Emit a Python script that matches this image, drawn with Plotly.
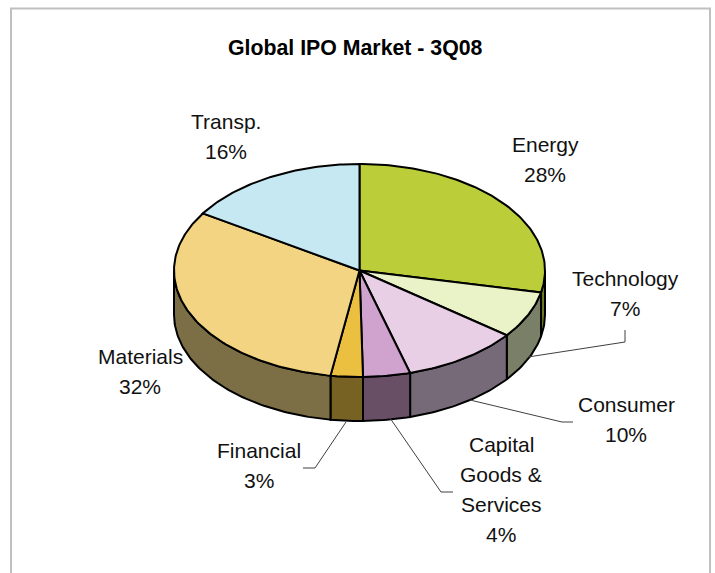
import math
import plotly.graph_objects as go

# ---- data ----
categories = ["Energy", "Technology", "Consumer", "Capital Goods & Services", "Financial", "Materials", "Transp."]
values = [28.3, 7.1, 10.2, 4.1, 2.8, 31.5, 16.0]
label_lines = [["Energy"], ["Technology"], ["Consumer"], ["Capital", "Goods &", "Services"], ["Financial"], ["Materials"], ["Transp."]]
title_text = "Global IPO Market - 3Q08"

# ---- style ----
top_colors = ["#BBCE3A", "#EAF3C7", "#E8CFE6", "#D0A2CE", "#EBBF3F", "#F3D482", "#C5E8F2"]
wall_colors = ["#6E7A1C", "#7A7F68", "#766A78", "#694F66", "#776123", "#7C6E45", "#62757A"]
FONT = "Liberation Sans, Arial, sans-serif"
W, H = 715, 573
CX, CY, RX, RY, DEPTH = 359.5, 270.5, 185.5, 106.5, 44.0
label_pos = [(545, 144), (625, 278), (626, 404), (501, 444), (259, 450), (140, 356), (226, 121)]
leader_paths = {
    "Technology": ([528, 625, 625], [357, 342, 330]),
    "Consumer": ([470, 562, 573], [400, 422, 422]),
    "Capital Goods & Services": ([390, 441, 453], [418, 492, 492]),
    "Financial": ([346, 315, 303], [422, 468, 468]),
}
LINE_H = 30


def pt(deg, dy=0.0):
    a = math.radians(deg)
    return CX + RX * math.sin(a), CY - RY * math.cos(a) + dy


def arc(a, b, dy=0.0):
    n = max(2, int(abs(b - a) / 1.0) + 1)
    return [pt(a + (b - a) * i / (n - 1), dy) for i in range(n)]


fig = go.Figure()
total = sum(values)
spans = []
acc = 0.0
for v in values:
    spans.append((acc / total * 360, (acc + v) / total * 360))
    acc += v


def add_poly(points, color, name, pct):
    xs = [p[0] for p in points] + [points[0][0]]
    ys = [p[1] for p in points] + [points[0][1]]
    fig.add_trace(go.Scatter(x=xs, y=ys, mode="lines", fill="toself", fillcolor=color,
                             line=dict(color="#000000", width=2), name=name,
                             text=f"{name}: {pct:.0f}%", hoverinfo="text", hoveron="fills",
                             showlegend=False))


# outer walls, only the part on the near side of the disc
for i, (a, b) in enumerate(spans):
    lo, hi = max(a, 90), min(b, 270)
    if hi > lo:
        add_poly(arc(lo, hi) + arc(hi, lo, DEPTH), wall_colors[i], categories[i], values[i])

# top faces
for i, (a, b) in enumerate(spans):
    add_poly([(CX, CY)] + arc(a, b), top_colors[i], categories[i], values[i])

# leader lines
for name, (lx, ly) in leader_paths.items():
    fig.add_trace(go.Scatter(x=lx, y=ly, mode="lines", line=dict(color="#404040", width=1),
                             hoverinfo="skip", showlegend=False))

annotations = [dict(x=355.5, y=48, text=f"<b>{title_text}</b>", showarrow=False, xanchor="center",
                    yanchor="middle", font=dict(family=FONT, size=21.3, color="#000000"))]
for i, lines in enumerate(label_lines):
    x, y = label_pos[i]
    for j, t in enumerate(lines + [f"{values[i]:.0f}%"]):
        annotations.append(dict(x=x, y=y + j * LINE_H, text=t, showarrow=False, xanchor="center",
                                yanchor="middle", font=dict(family=FONT, size=21, color="#111111")))

fig.update_layout(
    width=W, height=H, autosize=False,
    margin=dict(l=0, r=0, t=0, b=0),
    paper_bgcolor="#FFFFFF", plot_bgcolor="#FFFFFF",
    xaxis=dict(range=[0, W], visible=False, fixedrange=True),
    yaxis=dict(range=[H, 0], visible=False, fixedrange=True),
    annotations=annotations,
    shapes=[dict(type="rect", xref="x", yref="y", x0=11, y0=8.5, x1=710, y1=600,
                 line=dict(color="#C0C0C0", width=2), fillcolor="rgba(0,0,0,0)", layer="below")],
)
fig.write_html("out.html", config={"displayModeBar": False},
               post_script="document.body.style.margin='0';document.documentElement.style.overflow='hidden';")
